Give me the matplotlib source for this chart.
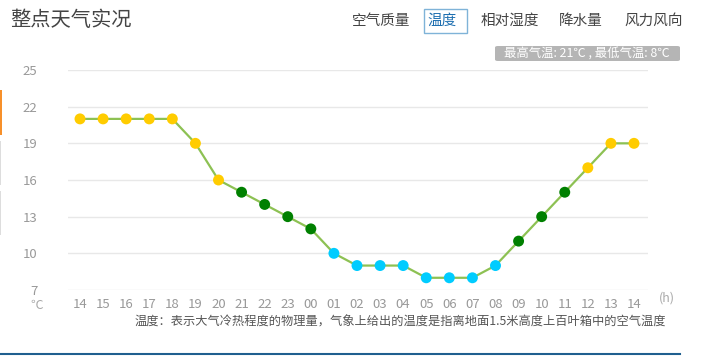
import matplotlib
matplotlib.use("Agg")
import matplotlib.pyplot as plt
from matplotlib.patches import FancyBboxPatch, Rectangle
from matplotlib.lines import Line2D

plt.rcParams['font.family'] = ['Noto Sans CJK SC', 'DejaVu Sans']

hours = ["14", "15", "16", "17", "18", "19", "20", "21", "22", "23", "00", "01",
         "02", "03", "04", "05", "06", "07", "08", "09", "10", "11", "12", "13", "14"]
temps = [21, 21, 21, 21, 21, 19, 16, 15, 14, 13, 12, 10,
         9, 9, 9, 8, 8, 8, 9, 11, 13, 15, 17, 19, 19]
y_ticks = [7, 10, 13, 16, 19, 22, 25]
tabs = ["空气质量", "温度", "相对湿度", "降水量", "风力风向"]
tab_x = [352, 427, 481, 559, 624]


def point_color(t):
    if t >= 16:
        return "#FFCC00"
    if t >= 11:
        return "#008000"
    return "#00CCFF"


W, H = 705, 356
fig = plt.figure(figsize=(W / 100, H / 100), dpi=100)
fig.patch.set_facecolor("white")

ax = fig.add_axes([68 / W, 1 - 290 / H, 580 / W, 220 / H])
x = list(range(len(hours)))
ax.plot(x, temps, color="#8DC153", lw=1.6, zorder=2)
ax.scatter(x, temps, s=62, c=[point_color(t) for t in temps], zorder=3, linewidths=0)
ax.set_xlim(-12 / 23.083, 24 + 14 / 23.083)
ax.set_ylim(7, 25)
ax.set_yticks(y_ticks)
ax.set_xticks(x)
ax.set_xticklabels(hours)
for s in ax.spines.values():
    s.set_visible(False)
ax.grid(axis="y", color="#E8E8E8", lw=1)
ax.set_axisbelow(True)
ax.tick_params(axis="both", length=0, colors="#999999", labelsize=9.5)
ax.tick_params(axis="y", pad=22)
ax.tick_params(axis="x", pad=6)
for lab in ax.get_yticklabels():
    lab.set_horizontalalignment("right")

def px(xp, yp):
    return xp / W, 1 - yp / H

fig.text(*px(659, 298), "(h)", color="#AAAAAA", fontsize=9, va="center", ha="left")
fig.text(*px(30, 305), "℃", color="#AAAAAA", fontsize=9, va="center", ha="left")

# title
fig.text(*px(10, 20), "整点天气实况", color="#444444", fontsize=14.6, va="center", ha="left")

# tabs
for t, tx in zip(tabs, tab_x):
    col = "#1E6FB0" if t == "温度" else "#444444"
    fig.text(*px(tx, 21), t, color=col, fontsize=10.5, va="center", ha="left")
fig.patches.append(Rectangle(px(424, 33), 43 / W, 24 / H, transform=fig.transFigure,
                             fill=False, edgecolor="#7FB3D8", lw=1))

# badge
fig.patches.append(FancyBboxPatch(px(495, 61), 185 / W, 15 / H,
                                  boxstyle="round,pad=0,rounding_size=0.004",
                                  transform=fig.transFigure, facecolor="#B5B5B5",
                                  edgecolor="none"))
fig.text(*px(587, 53), "最高气温: 21℃ , 最低气温: 8℃", color="white", fontsize=8.9,
         va="center", ha="center")

# left side bars
fig.patches.append(Rectangle(px(0, 135), 2 / W, 45 / H, transform=fig.transFigure,
                             facecolor="#F7902A", edgecolor="none"))
fig.patches.append(Rectangle(px(0, 185), 1 / W, 44 / H, transform=fig.transFigure,
                             facecolor="#DDDDDD", edgecolor="none"))
fig.patches.append(Rectangle(px(0, 235), 1 / W, 44 / H, transform=fig.transFigure,
                             facecolor="#DDDDDD", edgecolor="none"))

# footnote
fig.text(*px(135, 322), "温度：表示大气冷热程度的物理量，气象上给出的温度是指离地面1.5米高度上百叶箱中的空气温度",
         color="#555555", fontsize=8.8, va="center", ha="left")

# bottom line
fig.lines.append(Line2D([0, 680 / W], [1 - 354 / H] * 2, transform=fig.transFigure,
                        color="#1F5F8F", lw=1.5))

fig.savefig("out.png", dpi=100)
